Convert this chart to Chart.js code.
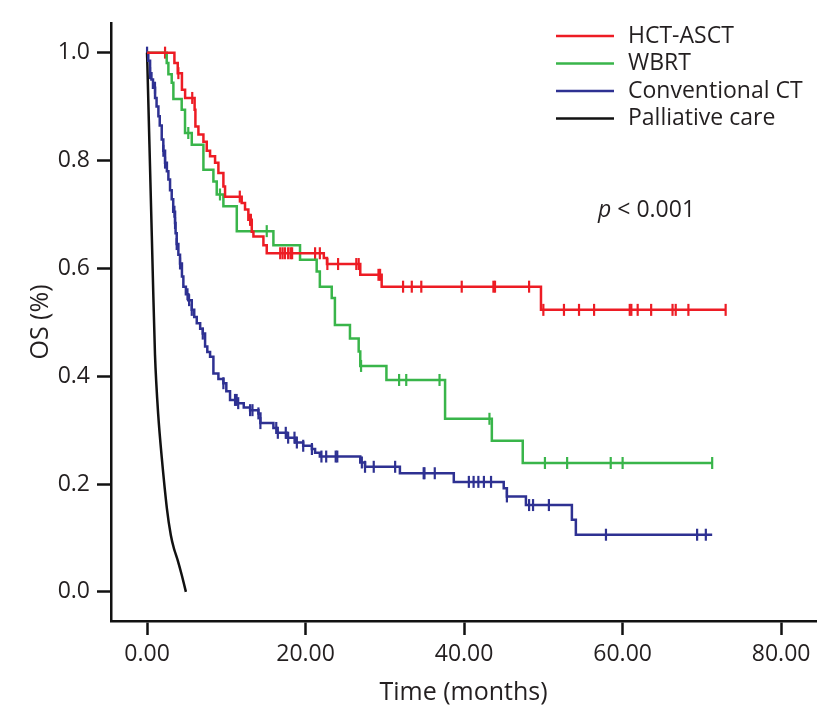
<!DOCTYPE html>
<html>
<head>
<meta charset="utf-8">
<title>OS by treatment</title>
<script src="https://cdn.jsdelivr.net/npm/chart.js@4.4.1/dist/chart.umd.min.js"></script>
<style>
  html, body { margin: 0; padding: 0; background: #fff; }
  #wrap { width: 832px; height: 714px; }
</style>
</head>
<body>
<div id="wrap"><canvas id="os" width="832" height="714"></canvas></div>
<script>
// axis ticks
const xTicks = [0, 20, 40, 60, 80];
const yTicks = [0, 0.2, 0.4, 0.6, 0.8, 1.0];

const groups = ['HCT-ASCT', 'WBRT', 'Conventional CT', 'Palliative care'];

// HCT-ASCT: event times (months) and survival after each step
const hctTime = [0, 3.45, 3.87, 4.4, 4.8, 6.0, 6.1, 6.48, 7.11, 7.53, 7.95, 8.58, 9.0, 9.63, 9.84, 11.94, 12.36, 12.78, 13.21, 13.42, 14.68, 15.1, 22.3, 22.7, 26.9, 29.6, 49.7, 73.0];
const hctSurv = [1.0, 0.981, 0.962, 0.931, 0.916, 0.894, 0.863, 0.848, 0.835, 0.818, 0.808, 0.796, 0.777, 0.752, 0.733, 0.721, 0.709, 0.690, 0.668, 0.659, 0.643, 0.628, 0.619, 0.608, 0.588, 0.566, 0.523, 0.523];
const hctCensor = [2.27, 3.95, 5.7, 11.7, 13.0, 13.1, 16.8, 17.1, 17.4, 17.8, 18.1, 18.3, 21.2, 21.8, 22.75, 24.1, 26.4, 26.7, 29.2, 29.4, 32.3, 33.4, 34.6, 39.7, 43.7, 43.9, 48.2, 50.0, 52.6, 54.5, 56.4, 60.9, 61.1, 61.9, 63.6, 66.3, 66.7, 68.3, 73.0];

// WBRT
const wbrtTime = [0, 2.48, 2.69, 3.11, 3.32, 4.37, 4.79, 5.64, 7.11, 8.37, 8.79, 9.63, 11.32, 15.94, 19.3, 21.4, 21.8, 23.3, 23.7, 25.6, 26.7, 26.9, 30.2, 37.6, 43.5, 47.4, 71.3];
const wbrtSurv = [1.0, 0.981, 0.960, 0.944, 0.914, 0.894, 0.851, 0.829, 0.783, 0.761, 0.737, 0.715, 0.669, 0.643, 0.616, 0.594, 0.566, 0.545, 0.495, 0.470, 0.446, 0.419, 0.393, 0.321, 0.2805, 0.239, 0.239];
const wbrtCensor = [5.2, 9.2, 15.1, 27.0, 31.8, 32.7, 36.9, 43.2, 50.2, 53.0, 58.5, 60.0, 71.3];

// Conventional CT
const ctTime = [0, 0.15, 0.38, 0.55, 0.75, 1.01, 1.2, 1.43, 1.6, 1.85, 2.05, 2.27, 2.5, 2.69, 2.9, 3.11, 3.3, 3.53, 3.6, 3.74, 3.95, 4.16, 4.4, 4.58, 4.9, 5.2, 5.64, 5.95, 6.27, 6.7, 7.03, 7.32, 7.6, 7.95, 8.37, 9.0, 9.63, 10.0, 10.47, 11.32, 12.2, 13.0, 14.05, 14.3, 15.94, 16.4, 17.6, 18.7, 19.7, 20.8, 21.2, 21.8, 26.9, 27.5, 31.9, 38.7, 45.0, 45.4, 47.8, 53.6, 54.1, 71.3];
const ctSurv = [1.0, 0.985, 0.962, 0.95, 0.935, 0.916, 0.90, 0.882, 0.865, 0.839, 0.818, 0.796, 0.78, 0.765, 0.745, 0.728, 0.705, 0.684, 0.665, 0.645, 0.625, 0.609, 0.585, 0.566, 0.552, 0.541, 0.523, 0.51, 0.498, 0.488, 0.479, 0.455, 0.445, 0.436, 0.405, 0.395, 0.387, 0.372, 0.356, 0.350, 0.342, 0.337, 0.331, 0.313, 0.304, 0.295, 0.286, 0.277, 0.271, 0.265, 0.258, 0.251, 0.240, 0.232, 0.22, 0.204, 0.192, 0.177, 0.161, 0.134, 0.106, 0.106];
const ctCensor = [0.0, 0.38, 1.0, 2.06, 2.27, 3.45, 3.53, 3.74, 4.16, 5.1, 5.3, 5.64, 7.03, 9.63, 11.1, 11.3, 11.5, 13.0, 13.3, 14.05, 14.3, 16.3, 16.5, 17.5, 17.8, 18.6, 18.9, 19.7, 20.8, 22.0, 22.6, 23.8, 24.0, 27.1, 27.5, 28.6, 31.3, 34.9, 35.0, 36.3, 40.6, 41.2, 41.8, 42.5, 43.4, 45.4, 48.2, 48.7, 50.7, 57.9, 69.4, 70.5];

// Palliative care (drawn as a plain line)
const palTime = [0, 0.6, 1.0, 1.4, 1.85, 2.5, 3.0, 3.4, 3.86, 4.4, 4.9];
const palSurv = [1.0, 0.66, 0.44, 0.33, 0.25, 0.155, 0.105, 0.08, 0.059, 0.03, 0.0];

const colors = ['#ed1c24', '#39b54a', '#2e3192', '#111111'];
const textColor = '#231f20';
const FONT = '"Open Sans", "Noto Sans", sans-serif';

function pts(times, surv) {
    return times.map((t, i) => ({ x: t, y: surv[i] }));
}

// survival level of a step curve at time t
function levelAt(times, surv, t) {
    let s = surv[0];
    for (let i = 0; i < times.length; i++) {
        if (times[i] <= t) s = surv[i];
    }
    return s;
}

function curve(label, times, surv, color) {
    return {
        label: label,
        data: pts(times, surv),
        borderColor: color,
        borderWidth: 2.5,
        stepped: 'before',
        pointRadius: 0,
        fill: false,
    };
}

function censor(label, censorTimes, times, surv, color) {
    return {
        label: label + ' censored',
        data: censorTimes.map(t => ({ x: t, y: levelAt(times, surv, t) })),
        showLine: false,
        pointStyle: 'line',
        rotation: 90,
        pointRadius: 6,
        pointBorderWidth: 2.2,
        pointBorderColor: color,
        pointBackgroundColor: color,
    };
}

const kmLegend = {
    id: 'kmLegend',
    afterDraw(chart) {
        const ctx = chart.ctx;
        ctx.save();
        ctx.textBaseline = 'middle';
        ctx.textAlign = 'left';
        groups.forEach((name, i) => {
            const y = 36 + i * 27.5;
            ctx.strokeStyle = colors[i];
            ctx.lineWidth = 2.5;
            ctx.beginPath();
            ctx.moveTo(556, y);
            ctx.lineTo(614, y);
            ctx.stroke();
            ctx.fillStyle = textColor;
            ctx.font = '23px ' + FONT;
            ctx.fillText(name, 628, y);
        });
        // p value
        ctx.fillStyle = textColor;
        ctx.font = 'italic 23px ' + FONT;
        ctx.fillText('p', 598, 210);
        const w = ctx.measureText('p').width;
        ctx.font = '23px ' + FONT;
        ctx.fillText(' < 0.001', 598 + w, 210);
        ctx.restore();
    }
};

new Chart(document.getElementById('os'), {
    type: 'line',
    data: {
        datasets: [
            curve(groups[0], hctTime, hctSurv, colors[0]),
            curve(groups[1], wbrtTime, wbrtSurv, colors[1]),
            curve(groups[2], ctTime, ctSurv, colors[2]),
            {
                label: groups[3],
                data: pts(palTime, palSurv),
                borderColor: colors[3],
                borderWidth: 2.5,
                pointRadius: 0,
                tension: 0.2,
                fill: false,
            },
            censor(groups[0], hctCensor, hctTime, hctSurv, colors[0]),
            censor(groups[1], wbrtCensor, wbrtTime, wbrtSurv, colors[1]),
            censor(groups[2], ctCensor, ctTime, ctSurv, colors[2]),
        ],
    },
    options: {
        responsive: false,
        animation: false,
        events: [],
        layout: { padding: { top: 23, right: 16, left: 0, bottom: 0 } },
        scales: {
            x: {
                type: 'linear',
                min: -4.55,
                max: 84.4,
                afterBuildTicks: s => { s.ticks = xTicks.map(v => ({ value: v })); },
                afterFit: s => { s.height = 93; },
                ticks: {
                    callback: v => v.toFixed(2),
                    color: textColor,
                    font: { family: FONT, size: 23 },
                    padding: 6,
                    maxRotation: 0,
                },
                grid: { drawOnChartArea: false, drawTicks: true, tickLength: 14, tickWidth: 2.5, tickColor: '#111' },
                border: { display: true, color: '#111', width: 2.5 },
                title: {
                    display: true,
                    text: 'Time (months)',
                    color: textColor,
                    font: { family: FONT, size: 25 },
                    padding: { top: 0, bottom: 6 },
                },
            },
            y: {
                min: -0.054,
                max: 1.055,
                afterBuildTicks: s => { s.ticks = yTicks.map(v => ({ value: v })); },
                afterFit: s => { s.width = 111; },
                ticks: {
                    callback: v => v.toFixed(1),
                    color: textColor,
                    font: { family: FONT, size: 23 },
                    padding: 7,
                },
                grid: { drawOnChartArea: false, drawTicks: true, tickLength: 14, tickWidth: 2.5, tickColor: '#111' },
                border: { display: true, color: '#111', width: 2.5 },
                title: {
                    display: true,
                    text: 'OS (%)',
                    color: textColor,
                    font: { family: FONT, size: 25 },
                    padding: { top: 26, bottom: 0 },
                },
            },
        },
        plugins: {
            legend: { display: false },
            tooltip: { enabled: false },
        },
    },
    plugins: [kmLegend],
});
</script>
</body>
</html>
